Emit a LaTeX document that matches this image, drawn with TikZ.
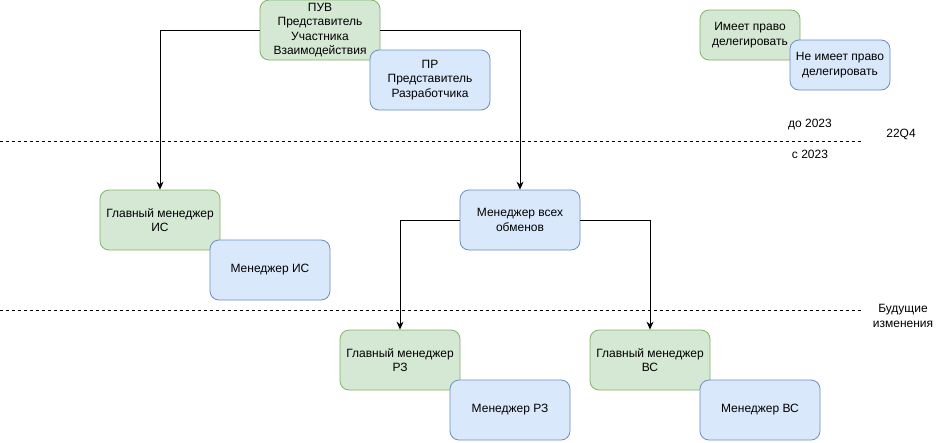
\documentclass[tikz,border=0pt]{standalone}
\usepackage{fontspec}
\setmainfont{Liberation Sans}
\usetikzlibrary{arrows.meta}
\definecolor{gfill}{HTML}{D5E8D4}
\definecolor{gline}{HTML}{82B366}
\definecolor{bfill}{HTML}{DAE8FC}
\definecolor{bline}{HTML}{6C8EBF}
\begin{document}
\begin{tikzpicture}[x=1pt,y=-1pt,
  box/.style={rounded corners=9pt, minimum width=120pt, minimum height=60pt, align=center, inner sep=0pt, font=\fontsize{12}{14.5}\selectfont, line width=0.8pt},
  smallbox/.style={box, minimum width=100pt, minimum height=50pt},
  gbox/.style={box, fill=gfill, draw=gline},
  bbox/.style={box, fill=bfill, draw=bline},
  lbl/.style={font=\fontsize{12}{14.5}\selectfont, align=center, inner sep=0pt},
  sep/.style={line width=0.8pt, dash pattern=on 3pt off 3pt},
  conn/.style={line width=1pt, -{Stealth[length=8pt,width=7pt]}}]
\useasboundingbox (0,0) rectangle (941,442);
% legend
\node[gbox, smallbox, fill=gfill, draw=gline] (have) at (750,35) {Имеет право\\делегировать};
\node[bbox, smallbox, fill=bfill, draw=bline] (nothave) at (840,65) {Не имеет право\\делегировать};
% boxes
\node[gbox] (puv) at (320,30) {ПУВ\\Представитель\\Участника\\Взаимодействия};
\node[bbox] (pr) at (430,80) {ПР\\Представитель\\Разработчика};
\node[gbox] (gmis) at (160,220) {Главный менеджер\\ИС};
\node[bbox] (mis) at (270,270) {Менеджер ИС};
\node[bbox] (all) at (520,220) {Менеджер всех\\обменов};
\node[gbox] (gmrz) at (400,360) {Главный менеджер\\РЗ};
\node[bbox] (mrz) at (510,410) {Менеджер РЗ};
\node[gbox] (gmvs) at (650,360) {Главный менеджер\\ВС};
\node[bbox] (mvs) at (760,410) {Менеджер ВС};
% separators
\coordinate (s1a) at (0,141);
\coordinate (s1b) at (862,141);
\coordinate (s2a) at (0,310);
\coordinate (s2b) at (862,310);
\draw[sep] (s1a) -- (s1b);
\draw[sep] (s2a) -- (s2b);
\node[lbl] (before) at (810,125) {до 2023};
\node[lbl] (after) at (810,154) {с 2023};
\node[lbl] (q4) at (901,134) {22Q4};
\node[lbl] (future) at (903,316) {Будущие\\изменения};
% connectors
\draw[conn] (puv.west) -| (gmis.north);
\draw[conn] (puv.east) -| (all.north);
\draw[conn] (all.west) -| (gmrz.north);
\draw[conn] (all.east) -| (gmvs.north);
\end{tikzpicture}
\end{document}
